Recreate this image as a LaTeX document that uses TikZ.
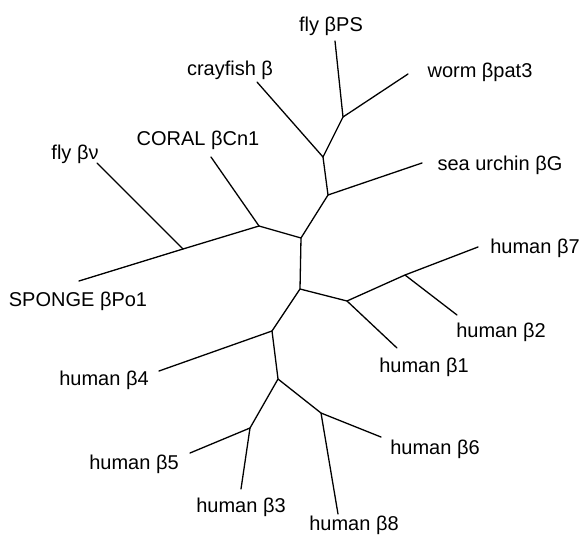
\documentclass[tikz,border=0pt]{standalone}
\usepackage{fontspec}
\setmainfont{Liberation Sans}
\begin{document}
\begin{tikzpicture}[x=1pt,y=-1pt,
  branch/.style={line width=1.3pt,line cap=round,line join=round},
  lbl/.style={inner sep=0pt,font=\fontsize{20}{23}\selectfont}]
\useasboundingbox (0,0) rectangle (587,541);
% internal vertices
\coordinate (A) at (301,238);
\coordinate (B) at (343,117);
\coordinate (C) at (323,157);
\coordinate (D) at (328,195);
\coordinate (Co) at (259,226);
\coordinate (Fv) at (183,249);
\coordinate (E) at (300,289);
\coordinate (F) at (347,301);
\coordinate (G) at (405,275);
\coordinate (I) at (272,331);
\coordinate (J) at (278,379);
\coordinate (K) at (250,428);
\coordinate (H) at (321,413);
% leaf ends
\coordinate (lPS) at (335,41);
\coordinate (lWo) at (408,74);
\coordinate (lCr) at (257,82);
\coordinate (lSU) at (422,163);
\coordinate (lCo) at (211,157);
\coordinate (lFv) at (97,163);
\coordinate (lSp) at (79,281);
\coordinate (l7) at (478,247);
\coordinate (l2) at (457,315);
\coordinate (l1) at (397,348);
\coordinate (l4) at (159,371);
\coordinate (l5) at (190,453);
\coordinate (l3) at (241,489);
\coordinate (l6) at (381,437);
\coordinate (l8) at (338,514);
% labels
\node[lbl] (tPS) at (331,26) {fly βPS};
\node[lbl] (tWo) at (480,72) {worm βpat3};
\node[lbl] (tCr) at (230,70) {crayfish β};
\node[lbl] (tSU) at (500,165) {sea urchin βG};
\node[lbl] (tCo) at (198,140) {CORAL βCn1};
\node[lbl] (tFv) at (75,154) {fly βν};
\node[lbl] (tSp) at (78,301) {SPONGE βPo1};
\node[lbl] (t7) at (535,248) {human β7};
\node[lbl] (t2) at (501,332) {human β2};
\node[lbl] (t1) at (424,367) {human β1};
\node[lbl] (t6) at (435,449) {human β6};
\node[lbl] (t8) at (354,525) {human β8};
\node[lbl] (t4) at (104,380) {human β4};
\node[lbl] (t5) at (134,464) {human β5};
\node[lbl] (t3) at (241,507) {human β3};
% branches
\draw[branch] (lPS) -- (B) -- (lWo);
\draw[branch] (B) -- (C) -- (lCr);
\draw[branch] (C) -- (D) -- (lSU);
\draw[branch] (D) -- (A) -- (Co) -- (lCo);
\draw[branch] (Co) -- (Fv) -- (lFv);
\draw[branch] (Fv) -- (lSp);
\draw[branch] (A) -- (E) -- (F) -- (l1);
\draw[branch] (F) -- (G) -- (l7);
\draw[branch] (G) -- (l2);
\draw[branch] (E) -- (I) -- (l4);
\draw[branch] (I) -- (J) -- (K) -- (l5);
\draw[branch] (K) -- (l3);
\draw[branch] (J) -- (H) -- (l6);
\draw[branch] (H) -- (l8);
\end{tikzpicture}
\end{document}
